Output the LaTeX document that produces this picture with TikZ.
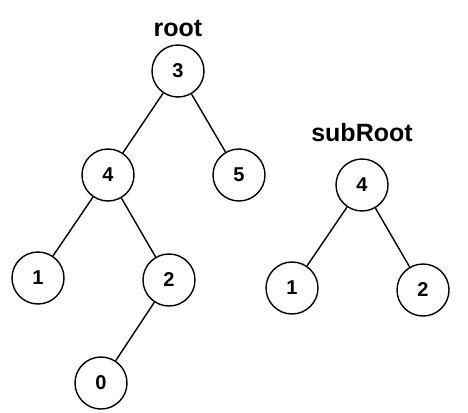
\documentclass[tikz,border=0pt]{standalone}
\usepackage{fontspec}
\setmainfont{Liberation Sans}
\begin{document}
\begin{tikzpicture}[x=1pt,y=-1pt,
  tnode/.style={circle,draw=black,line width=1.4pt,minimum size=52pt,inner sep=0pt,font=\fontsize{20}{20}\selectfont\bfseries},
  tlabel/.style={font=\fontsize{25}{25}\selectfont\bfseries,inner sep=0pt},
  tedge/.style={line width=1.4pt}]
\useasboundingbox[fill=white] (0,0) rectangle (468,412);
\node[tlabel] (rootlbl) at (178,28) {root};
\node[tnode] (n3) at (178,71) {3};
\node[tnode] (n4) at (108,175) {4};
\node[tnode] (n5) at (239,175) {5};
\node[tnode] (n1) at (38,278) {1};
\node[tnode] (n2) at (169,280) {2};
\node[tnode] (n0) at (101,383) {0};
\node[tlabel] (sublbl) at (362,133) {subRoot};
\node[tnode] (s4) at (362,185) {4};
\node[tnode] (s1) at (292,288) {1};
\node[tnode] (s2) at (423,290) {2};
\draw[tedge] (n3) -- (n4);
\draw[tedge] (n3) -- (n5);
\draw[tedge] (n4) -- (n1);
\draw[tedge] (n4) -- (n2);
\draw[tedge] (n2) -- (n0);
\draw[tedge] (s4) -- (s1);
\draw[tedge] (s4) -- (s2);
\end{tikzpicture}
\end{document}
